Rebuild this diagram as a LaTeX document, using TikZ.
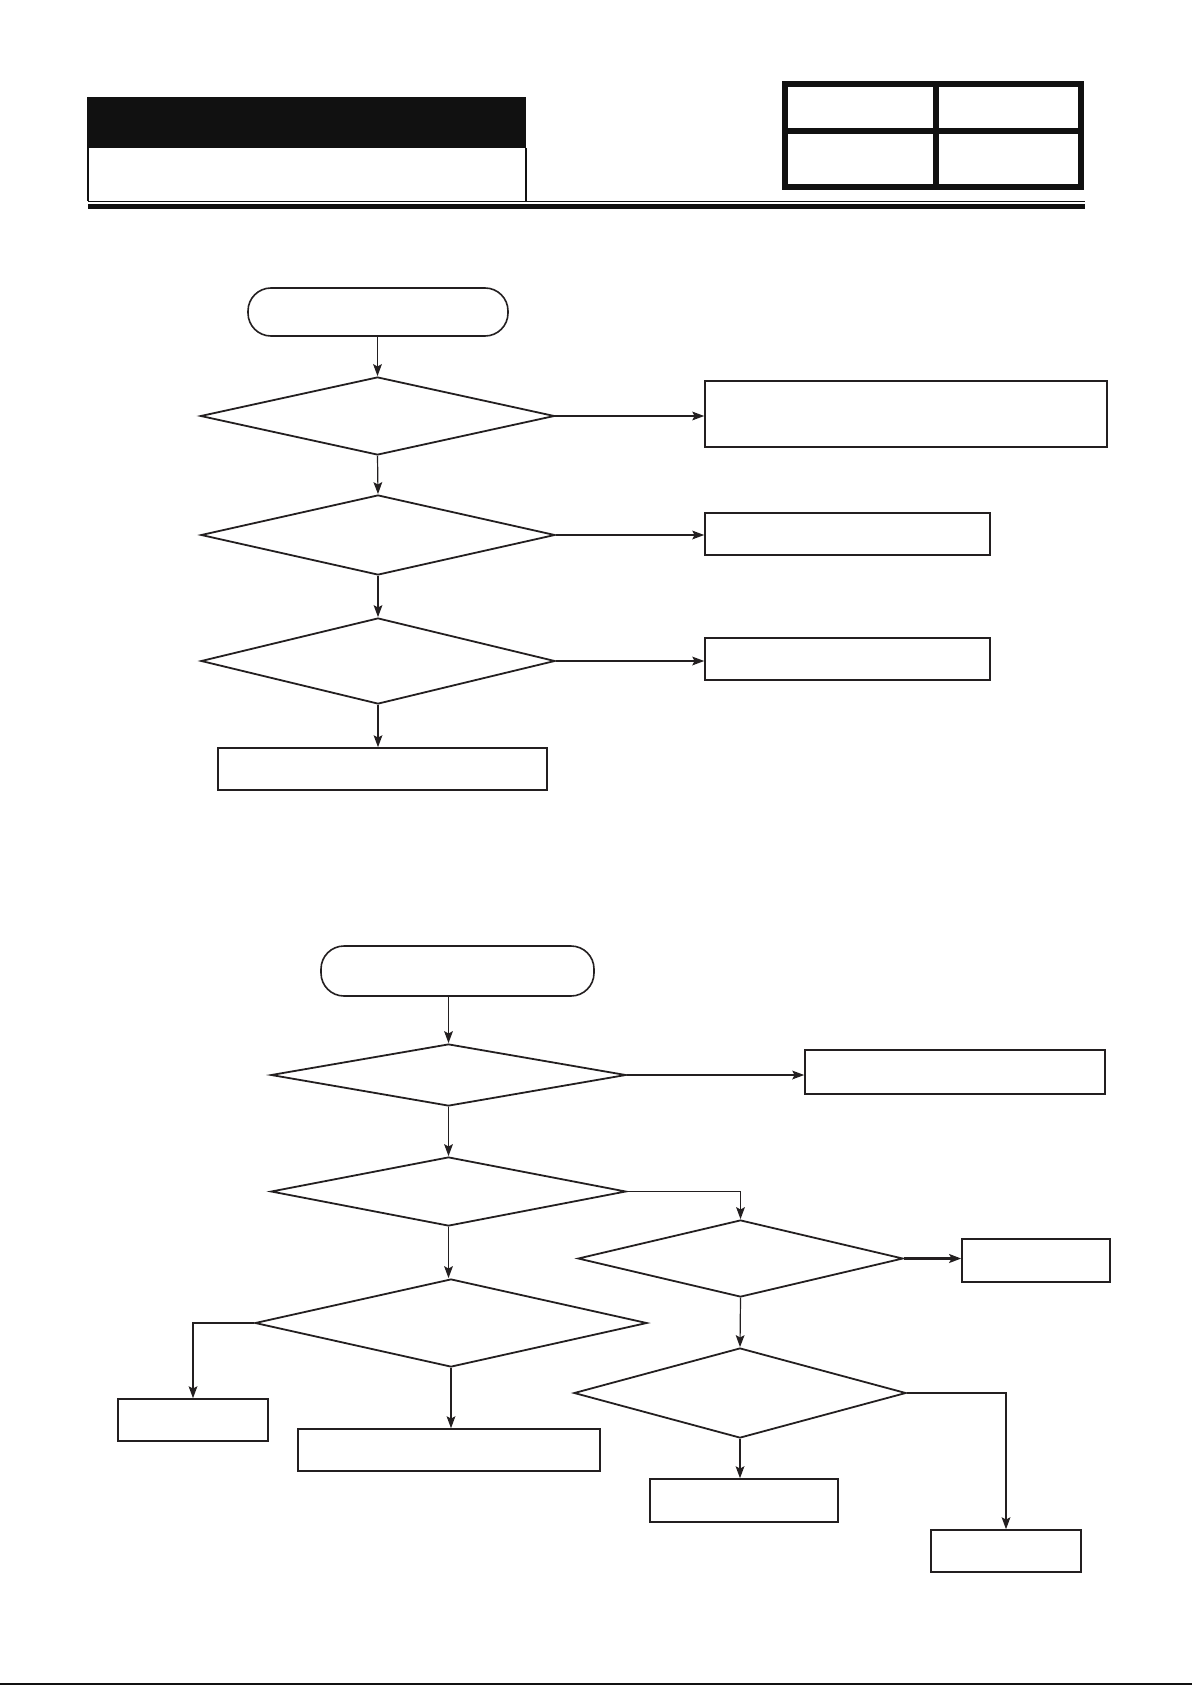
\documentclass[tikz,border=0pt]{standalone}
\usepackage{tikz}
\usetikzlibrary{arrows.meta,shapes.geometric}
\definecolor{flowink}{RGB}{35,31,32}
\definecolor{headblack}{RGB}{17,17,17}

\begin{document}
\begin{tikzpicture}[x=.5pt,y=-.5pt,>={Stealth[length=6pt,width=4.4pt,inset=1.2pt]},
 terminal/.style={draw=flowink,line width=.8pt,rectangle,rounded corners=11.5pt,inner sep=0pt},
 query/.style={draw=flowink,line width=.9pt,diamond,inner sep=0pt},
 outcome/.style={draw=flowink,line width=.8pt,rectangle,inner sep=0pt},
 link/.style={->,flowink,line width=.6pt}]
\useasboundingbox (0,0) rectangle (1192,1685);
\fill[headblack] (88,97) rectangle (526,148);
\draw[headblack,line width=1.2pt] (88,97)--(88,201);
\draw[headblack,line width=1pt] (525.5,148)--(525.5,201);
\draw[headblack,line width=.75pt] (88,201.5)--(1085,201.5);
\fill[headblack] (88,204) rectangle (1085,209);
\draw[headblack,line width=3pt] (785,84) rectangle (1081,187);
\draw[headblack,line width=3pt] (936,84)--(936,187) (785,131)--(1081,131);
\node[terminal,minimum width=130pt,minimum height=24pt] (begin1) at (378,312) {};
\node[query,minimum width=177pt,minimum height=39pt] (ask1) at (377.5,416) {};
\node[query,minimum width=177pt,minimum height=40pt] (ask2) at (378,535) {};
\node[query,minimum width=177pt,minimum height=43pt] (ask3) at (378,661) {};
\node[outcome,minimum width=201pt,minimum height=33pt] (res1) at (906,414) {};
\node[outcome,minimum width=142.5pt,minimum height=21pt] (res2) at (847.5,534) {};
\node[outcome,minimum width=142.5pt,minimum height=21pt] (res3) at (847.5,659) {};
\node[outcome,minimum width=164.5pt,minimum height=21pt] (res4) at (382.5,769) {};
\draw[link] (ask1.north |- begin1.south)--(ask1.north);
\draw[link] (ask1.east)--(ask1.east -| res1.west);
\draw[link] (ask1.south)--(ask2.north);
\draw[link] (ask2.east)--(ask2.east -| res2.west);
\draw[link] (ask2.south)--(ask3.north);
\draw[link] (ask3.east)--(ask3.east -| res3.west);
\draw[link] (ask3.south)--(ask3.south |- res4.north);
\node[terminal,minimum width=136.5pt,minimum height=25pt] (begin2) at (457.5,971) {};
\node[query,minimum width=177.5pt,minimum height=31pt] (check1) at (448.5,1075) {};
\node[query,minimum width=177.5pt,minimum height=34.5pt] (check2) at (448.5,1191.5) {};
\node[query,minimum width=162.5pt,minimum height=38.5pt] (check3) at (740.5,1258.5) {};
\node[query,minimum width=166pt,minimum height=45pt] (check4) at (740,1393) {};
\node[query,minimum width=196pt,minimum height=44pt] (check5) at (451,1323) {};
\node[outcome,minimum width=150pt,minimum height=22pt] (out1) at (955,1072) {};
\node[outcome,minimum width=74pt,minimum height=21.5pt] (out2) at (1036,1260.5) {};
\node[outcome,minimum width=94pt,minimum height=21.5pt] (out3) at (744,1500.5) {};
\node[outcome,minimum width=75pt,minimum height=21pt] (out4) at (1006,1551) {};
\node[outcome,minimum width=75pt,minimum height=21pt] (out5) at (193,1420) {};
\node[outcome,minimum width=151pt,minimum height=21pt] (out6) at (449,1450) {};
\draw[link] (check1.north |- begin2.south)--(check1.north);
\draw[link] (check1.east)--(check1.east -| out1.west);
\draw[link] (check1.south)--(check2.north);
\draw[link] (check2.east)-|(check3.north);
\draw[link,line width=1.5pt] (check3.east)--(check3.east -| out2.west);
\draw[link] (check3.south)--(check4.north);
\draw[link] (check4.south)--(check4.south |- out3.north);
\draw[link] (check4.east)-|(out4.north);
\draw[link] (check2.south)--(check2.south |- check5.north);
\draw[link] (check5.west)-|(out5.north);
\draw[link] (check5.south)--(check5.south |- out6.north);
\draw[headblack,line width=1pt] (0,1684)--(1192,1684);
\end{tikzpicture}
\end{document}
